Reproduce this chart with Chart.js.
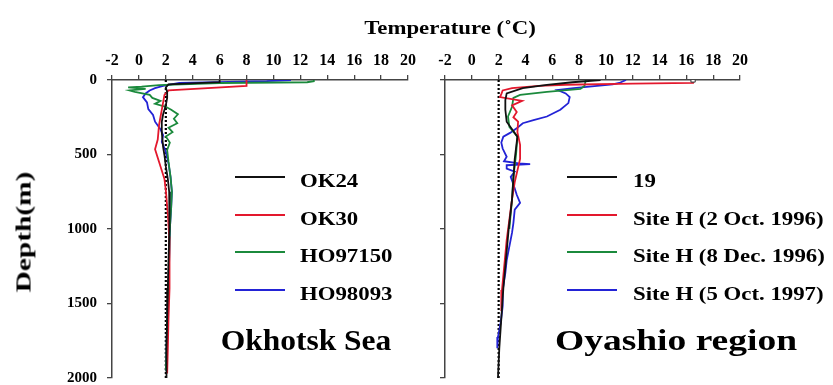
<!DOCTYPE html>
<html>
<head>
<meta charset="utf-8">
<script src="https://cdn.jsdelivr.net/npm/chart.js"></script>
<style>
  body { margin: 0; background: #fff; }
  #wrap { position: relative; width: 833px; height: 385px; overflow: hidden;
          font-family: "Liberation Serif", "Times New Roman", serif; font-weight: bold; color: #000; }
  .box { position: absolute; top: 0; height: 385px; }
  .txt { position: absolute; white-space: nowrap; line-height: 1; }
  .lab { position: absolute; white-space: nowrap; line-height: 1; font-size: 19px;
         transform-origin: left center; transform: translateY(-50%) scaleX(1.2); }
  .key { position: absolute; height: 2px; }
</style>
</head>
<body>
<div id="wrap">
  <div class="box" style="left:0;width:425px"><canvas id="left"></canvas></div>
  <div class="box" style="left:425px;width:408px"><canvas id="right"></canvas></div>
  <div class="txt" style="left:450px;top:27px;font-size:19px;transform:translate(-50%,-50%) scaleX(1.2)">Temperature (˚C)</div>
  <div class="txt" style="left:24px;top:232px;font-size:21px;transform:translate(-50%,-50%) rotate(-90deg) scaleX(1.4)">Depth(m)</div>
  <div class="txt" style="left:306px;top:340px;font-size:30px;transform:translate(-50%,-50%) scaleX(1.05)">Okhotsk Sea</div>
  <div class="txt" style="left:676px;top:340px;font-size:30px;transform:translate(-50%,-50%) scaleX(1.25)">Oyashio region</div>
</div>
<script>
// axis ticks
const tempTicks = [-2, 0, 2, 4, 6, 8, 10, 12, 14, 16, 18, 20];
const depthTicks = [0, 500, 1000, 1500, 2000];

// Okhotsk Sea profiles
const ok24Depth = [0, 15, 30, 50, 80, 120, 170, 230, 280, 350, 400, 450, 505, 580, 665, 750, 850, 1000, 1200, 1400, 1600, 1800, 2000];
const ok24Temp  = [6.0, 6.0, 2.2, 2.0, 2.1, 2.1, 2.0, 1.8, 1.7, 1.7, 1.75, 1.8, 1.9, 2.0, 2.15, 2.25, 2.3, 2.25, 2.2, 2.15, 2.1, 2.05, 2.05];

const ok30Depth = [0, 40, 70, 100, 150, 200, 250, 300, 350, 400, 465, 550, 665, 740, 900, 1050, 1208, 1400, 1600, 1800, 1970];
const ok30Temp  = [8.0, 8.0, 2.2, 1.9, 1.8, 1.7, 1.6, 1.5, 1.45, 1.4, 1.2, 1.5, 1.9, 2.0, 2.15, 2.25, 2.3, 2.25, 2.2, 2.15, 2.1];

const ho97Depth = [0, 8, 15, 20, 35, 45, 50, 60, 70, 80, 100, 120, 140, 160, 180, 200, 230, 260, 290, 320, 350, 380, 420, 470, 550, 650, 750, 850, 1000, 1200, 1400, 1600, 1800, 1950];
const ho97Temp  = [13.0, 13.0, 12.5, 6.0, 1.5, 0.2, -0.8, 0.5, -0.7, -0.3, 0.8, 1.0, 1.6, 1.2, 2.0, 2.4, 2.9, 2.6, 2.85, 2.2, 2.5, 2.0, 2.3, 2.1, 2.2, 2.35, 2.45, 2.4, 2.3, 2.25, 2.2, 2.1, 2.05, 2.0];

const ho98Depth = [0, 8, 20, 40, 55, 70, 90, 115, 150, 195, 235, 280, 330, 370, 415, 480, 560, 650, 750, 850, 1000, 1200, 1400, 1600, 1800, 1950];
const ho98Temp  = [11.3, 9.5, 3.0, 1.8, 1.2, 0.8, 0.5, 0.3, 0.6, 0.7, 1.05, 1.2, 1.6, 1.8, 1.7, 2.0, 2.2, 2.35, 2.45, 2.4, 2.3, 2.25, 2.2, 2.1, 2.05, 2.0];

// Oyashio region profiles
const st19Depth = [0, 15, 33, 55, 90, 135, 200, 280, 380, 530, 800, 1000, 1200, 1400, 1600, 1800, 2000];
const st19Temp  = [9.6, 7.5, 5.6, 3.8, 2.6, 2.5, 2.5, 2.6, 3.4, 3.2, 3.0, 2.75, 2.55, 2.35, 2.2, 2.05, 1.95];

const oct96Depth = [0, 20, 25, 32, 40, 55, 70, 95, 115, 140, 170, 215, 250, 280, 350, 435, 530, 685, 800, 1075, 1410, 1550];
const oct96Temp  = [16.5, 16.5, 12.0, 7.0, 5.0, 3.0, 2.3, 2.2, 2.1, 3.75, 3.0, 3.35, 3.1, 3.45, 3.4, 3.6, 3.6, 3.2, 3.0, 2.6, 2.25, 2.2];

const dec96Depth = [0, 40, 60, 80, 100, 120, 180, 245, 315, 380, 500, 650, 800, 1000];
const dec96Temp  = [8.5, 8.4, 8.1, 5.6, 3.6, 3.1, 3.0, 2.7, 2.8, 3.4, 3.3, 3.1, 3.0, 2.8];

const oct97Depth = [0, 20, 30, 55, 67, 90, 115, 155, 200, 245, 270, 290, 320, 355, 380, 420, 460, 515, 545, 560, 565, 572, 595, 615, 650, 700, 770, 825, 870, 960, 1025, 1140, 1210, 1295, 1410, 1520, 1630, 1725, 1800];
const oct97Temp  = [11.5, 11.0, 10.5, 7.6, 6.4, 7.0, 7.3, 7.2, 6.6, 5.6, 4.6, 3.8, 3.4, 2.85, 2.35, 2.2, 2.3, 2.6, 2.4, 3.5, 4.35, 2.6, 2.6, 3.2, 2.9, 3.1, 3.35, 3.6, 3.2, 3.1, 3.0, 2.75, 2.6, 2.5, 2.3, 2.3, 2.15, 1.95, 1.9];

// 2 degC reference line
const refTemp = [2, 2];
const refDepth = [0, 2000];

const leftNames = ["OK24", "OK30", "HO97150", "HO98093"];
const rightNames = ["19", "Site H (2 Oct. 1996)", "Site H (8 Dec. 1996)", "Site H (5 Oct. 1997)"];
const colors = ["#111111", "#e3182d", "#1b8a3c", "#2323d6"];

function pts(temp, depth) {
  return temp.map((t, i) => ({ x: t, y: depth[i] }));
}

function profile(label, temp, depth, color) {
  return {
    label: label,
    data: pts(temp, depth),
    borderColor: color,
    backgroundColor: color,
    borderWidth: 1.8,
    showLine: true,
    pointRadius: 0,
    tension: 0,
  };
}

function refLine() {
  return {
    label: "2C",
    data: pts(refTemp, refDepth),
    borderColor: "#000",
    borderWidth: 2.2,
    borderDash: [2, 2],
    showLine: true,
    pointRadius: 0,
  };
}

const serif = "'Liberation Serif', 'Times New Roman', serif";

function makeOptions(yWidth, pad, showDepth) {
  return {
    responsive: true,
    maintainAspectRatio: false,
    animation: false,
    layout: { padding: pad },
    plugins: { legend: { display: false }, tooltip: { enabled: false } },
    scales: {
      x: {
        type: "linear",
        position: "top",
        min: -2,
        max: 20,
        afterBuildTicks: (s) => { s.ticks = tempTicks.map((v) => ({ value: v })); },
        afterFit: (s) => { s.height = 80; s.paddingLeft = 0; s.paddingRight = 0; },
        ticks: { color: "#000", padding: 5, maxRotation: 0, callback: (v) => String(v),
                 font: { family: serif, size: 16, weight: "bold" } },
        grid: { drawOnChartArea: false, tickLength: 5, color: "#444", lineWidth: 1.3 },
        border: { display: true, color: "#444", width: 1.5 },
      },
      y: {
        type: "linear",
        reverse: true,
        min: 0,
        max: 2000,
        afterBuildTicks: (s) => { s.ticks = depthTicks.map((v) => ({ value: v })); },
        afterFit: (s) => { s.width = yWidth; s.paddingTop = 0; s.paddingBottom = 0; },
        ticks: { display: showDepth, color: "#000", padding: 10, callback: (v) => String(v),
                 font: { family: serif, size: 15, weight: "bold" } },
        grid: { drawOnChartArea: false, tickLength: 5, color: "#444", lineWidth: 1.3 },
        border: { display: true, color: "#444", width: 1.5 },
      },
    },
  };
}

const redSite = profile(rightNames[1], oct96Temp, oct96Depth, colors[1]);
redSite.pointRadius = oct96Temp.map((t, i) => (i === 0 ? 3 : 0));
redSite.pointStyle = "rect";
redSite.pointBackgroundColor = "#fff";
redSite.pointBorderColor = "#333";
redSite.pointBorderWidth = 1;

new Chart(document.getElementById("left"), {
  type: "scatter",
  data: {
    datasets: [
      profile(leftNames[0], ok24Temp, ok24Depth, colors[0]),
      profile(leftNames[1], ok30Temp, ok30Depth, colors[1]),
      profile(leftNames[2], ho97Temp, ho97Depth, colors[2]),
      profile(leftNames[3], ho98Temp, ho98Depth, colors[3]),
      refLine(),
    ],
  },
  options: makeOptions(112, { top: 0, left: 0, right: 17, bottom: 7 }, true),
});

new Chart(document.getElementById("right"), {
  type: "scatter",
  data: {
    datasets: [
      profile(rightNames[0], st19Temp, st19Depth, colors[0]),
      redSite,
      profile(rightNames[2], dec96Temp, dec96Depth, colors[2]),
      profile(rightNames[3], oct97Temp, oct97Depth, colors[3]),
      refLine(),
    ],
  },
  options: makeOptions(20, { top: 0, left: 0, right: 93, bottom: 7 }, false),
});

// legends drawn as html
const wrap = document.getElementById("wrap");
const rowY = [180, 217.5, 255, 292.5];
function addLegend(names, lineX, textX) {
  names.forEach((name, i) => {
    const k = document.createElement("div");
    k.className = "key";
    k.style.left = lineX + "px";
    k.style.width = "50px";
    k.style.top = (rowY[i] - 4) + "px";
    k.style.background = colors[i];
    wrap.appendChild(k);
    const t = document.createElement("div");
    t.className = "lab";
    t.style.left = textX + "px";
    t.style.top = rowY[i] + "px";
    t.textContent = name;
    wrap.appendChild(t);
  });
}
addLegend(leftNames, 235, 300);
addLegend(rightNames, 567, 633);
</script>
</body>
</html>
